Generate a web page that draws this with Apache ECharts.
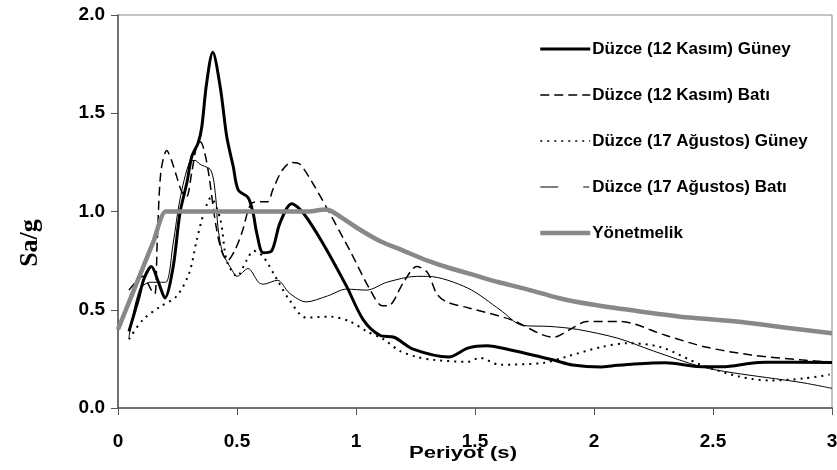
<!DOCTYPE html>
<html>
<head>
<meta charset="utf-8">
<script src="https://cdn.jsdelivr.net/npm/echarts@6/dist/echarts.min.js"></script>
<style>
html,body{margin:0;padding:0;background:#fff;}
#chart{width:837px;height:470px;}
</style>
</head>
<body>
<div id="chart"></div>
<script>
// Series names (legend order)
const seriesNames = [
  'Düzce (12 Kasım) Güney',
  'Düzce (12 Kasım) Batı',
  'Düzce (17 Ağustos) Güney',
  'Düzce (17 Ağustos) Batı',
  'Yönetmelik'
];

// Axis ticks and titles
const xTicks = [0, 0.5, 1, 1.5, 2, 2.5, 3];
const yTicks = [0, 0.5, 1.0, 1.5, 2.0];
const xTitle = 'Periyot (s)';
const yTitle = 'Sa/g';

// [Period (s), Sa/g]
const kasimGuney = [
  [0.046,0.39],[0.085,0.55],[0.11,0.66],[0.14,0.72],[0.17,0.64],[0.197,0.56],[0.232,0.72],
  [0.26,0.99],[0.29,1.15],[0.31,1.28],[0.337,1.35],[0.352,1.43],[0.372,1.65],[0.398,1.81],
  [0.43,1.63],[0.457,1.38],[0.484,1.23],[0.505,1.11],[0.547,1.07],[0.568,0.99],[0.583,0.89],
  [0.61,0.79],[0.646,0.80],[0.68,0.94],[0.73,1.04],[0.78,0.99],[0.86,0.84],[0.96,0.62],
  [1.03,0.45],[1.10,0.37],[1.16,0.36],[1.24,0.30],[1.39,0.26],[1.47,0.305],[1.55,0.317],
  [1.65,0.295],[1.83,0.244],[1.91,0.219],[2.03,0.209],[2.08,0.215],[2.17,0.224],[2.30,0.23],
  [2.45,0.21],[2.54,0.21],[2.66,0.228],[2.72,0.233],[3.0,0.232]
];

const kasimBati = [
  [0.046,0.60],[0.105,0.67],[0.14,0.60],[0.155,0.58],[0.165,0.85],[0.18,1.2],[0.205,1.31],
  [0.225,1.26],[0.246,1.18],[0.268,1.10],[0.288,1.075],[0.31,1.2],[0.33,1.33],[0.345,1.355],
  [0.36,1.32],[0.38,1.2],[0.41,0.94],[0.435,0.80],[0.46,0.75],[0.49,0.80],[0.52,0.89],
  [0.56,1.04],[0.60,1.05],[0.63,1.05],[0.65,1.11],[0.69,1.21],[0.73,1.25],[0.765,1.24],
  [0.82,1.14],[0.89,0.99],[0.975,0.80],[1.06,0.60],[1.11,0.52],[1.135,0.52],[1.20,0.64],
  [1.255,0.72],[1.30,0.69],[1.34,0.58],[1.38,0.54],[1.47,0.51],[1.65,0.45],[1.83,0.36],
  [1.90,0.40],[1.97,0.44],[2.11,0.44],[2.30,0.37],[2.47,0.31],[2.66,0.27],[2.87,0.245],[3.0,0.233]
];

const agustosGuney = [
  [0.046,0.35],[0.105,0.45],[0.176,0.515],[0.247,0.57],[0.30,0.69],[0.33,0.85],[0.36,0.99],
  [0.39,1.07],[0.43,0.96],[0.457,0.75],[0.50,0.67],[0.54,0.75],[0.57,0.80],[0.61,0.77],
  [0.67,0.65],[0.72,0.55],[0.79,0.46],[0.89,0.465],[0.975,0.44],[1.045,0.39],[1.115,0.35],
  [1.185,0.29],[1.255,0.26],[1.325,0.245],[1.47,0.235],[1.52,0.255],[1.605,0.22],[1.79,0.23],
  [1.88,0.26],[2.03,0.31],[2.14,0.33],[2.28,0.31],[2.45,0.22],[2.61,0.16],[2.74,0.14],
  [2.88,0.15],[2.99,0.17]
];

const agustosBati = [
  [0.046,0.36],[0.09,0.60],[0.135,0.64],[0.16,0.64],[0.2,0.64],[0.232,0.84],[0.26,1.06],
  [0.30,1.25],[0.324,1.26],[0.345,1.24],[0.39,1.21],[0.41,1.08],[0.42,0.92],[0.44,0.79],
  [0.48,0.70],[0.50,0.67],[0.546,0.71],[0.59,0.64],[0.61,0.63],[0.67,0.65],[0.72,0.585],
  [0.79,0.54],[0.88,0.57],[0.96,0.605],[1.045,0.60],[1.13,0.64],[1.255,0.67],[1.30,0.67],
  [1.47,0.61],[1.605,0.50],[1.70,0.42],[1.815,0.415],[1.93,0.40],[2.10,0.355],[2.25,0.29],
  [2.45,0.21],[2.58,0.18],[2.87,0.13],[3.0,0.10]
];

const yonetmelik = [
  [0,0.40],[0.05,0.55],[0.1,0.70],[0.15,0.85],[0.2,1.0],[0.3,1.0],[0.5,1.0],[0.7,1.0],
  [0.8,1.0],[0.87,1.01],[0.9,1.0],[1.0,0.92],[1.1,0.85],[1.2,0.80],[1.3,0.75],[1.4,0.71],
  [1.5,0.675],[1.6,0.64],[1.7,0.61],[1.85,0.56],[2.0,0.525],[2.2,0.49],[2.4,0.46],
  [2.6,0.44],[2.8,0.41],[3.0,0.38]
];

const FONT = '"Liberation Sans", Arial, sans-serif';
const chart = echarts.init(document.getElementById('chart'));

chart.setOption({
  animation: false,
  backgroundColor: '#fff',
  grid: { left: 118, right: 5, top: 15, bottom: 62, show: true, borderColor: '#888', borderWidth: 1,
    containLabel: false, outerBoundsMode: 'none' },
  xAxis: {
    type: 'value', min: xTicks[0], max: xTicks[xTicks.length - 1], interval: 0.5,
    axisLine: { lineStyle: { color: '#555', width: 1.5 } },
    axisTick: { show: true, length: 7, lineStyle: { color: '#555' } },
    splitLine: { show: false },
    axisLabel: { fontSize: 19, fontWeight: 'bold', color: '#000', fontFamily: FONT, margin: 24 }
  },
  yAxis: {
    type: 'value', min: yTicks[0], max: yTicks[yTicks.length - 1], interval: 0.5,
    axisLine: { show: true, lineStyle: { color: '#555', width: 1.5 } },
    axisTick: { show: true, length: 7, lineStyle: { color: '#555' } },
    splitLine: { show: false },
    axisLabel: { fontSize: 19, fontWeight: 'bold', color: '#000', fontFamily: FONT, margin: 13,
      formatter: v => v.toFixed(1) }
  },
  legend: {
    orient: 'vertical', left: 533, top: 34,
    itemWidth: 50, itemHeight: 20, itemGap: 26,
    itemStyle: { color: 'rgba(0,0,0,0)', borderWidth: 0, opacity: 0 },
    textStyle: { fontSize: 17, fontWeight: 'bold', color: '#000', fontFamily: FONT, lineHeight: 20, padding: [0, 0, 0, -3] },
    data: [
      { name: seriesNames[0], lineStyle: { width: 3 } },
      { name: seriesNames[1], lineStyle: { width: 1.5, type: [9, 5] } },
      { name: seriesNames[2], lineStyle: { width: 1.5, type: [2, 5] } },
      { name: seriesNames[3], lineStyle: { width: 1, type: [18, 25, 6, 60] } },
      { name: seriesNames[4], lineStyle: { width: 4.5 } }
    ]
  },
  graphic: [
    { type: 'text', x: 30, y: 243, rotation: Math.PI / 2,
      style: { text: yTitle, font: 'bold 26px "Liberation Serif", "Times New Roman", serif',
        fill: '#000', textAlign: 'center', textVerticalAlign: 'middle' } },
    { type: 'text', x: 463, y: 454, scaleX: 1.38, z: 10,
      style: { text: xTitle, font: 'bold 16px ' + FONT,
        fill: '#000', textAlign: 'center', textVerticalAlign: 'middle' } }
  ],
  series: [
    { name: seriesNames[0], type: 'line', data: kasimGuney, symbol: 'none', smooth: 0.3,
      lineStyle: { color: '#000', width: 3 }, itemStyle: { color: '#000' } },
    { name: seriesNames[1], type: 'line', data: kasimBati, symbol: 'none', smooth: 0.3,
      lineStyle: { color: '#000', width: 1.5, type: [9, 5] }, itemStyle: { color: '#000' } },
    { name: seriesNames[2], type: 'line', data: agustosGuney, symbol: 'none', smooth: 0.3,
      lineStyle: { color: '#000', width: 2, type: [2, 5] }, itemStyle: { color: '#000' } },
    { name: seriesNames[3], type: 'line', data: agustosBati, symbol: 'none', smooth: 0.3,
      lineStyle: { color: '#000', width: 1 }, itemStyle: { color: '#000' } },
    { name: seriesNames[4], type: 'line', data: yonetmelik, symbol: 'none', smooth: 0.2,
      lineStyle: { color: '#888', width: 4.5 }, itemStyle: { color: '#888' } }
  ]
});
</script>
</body>
</html>
